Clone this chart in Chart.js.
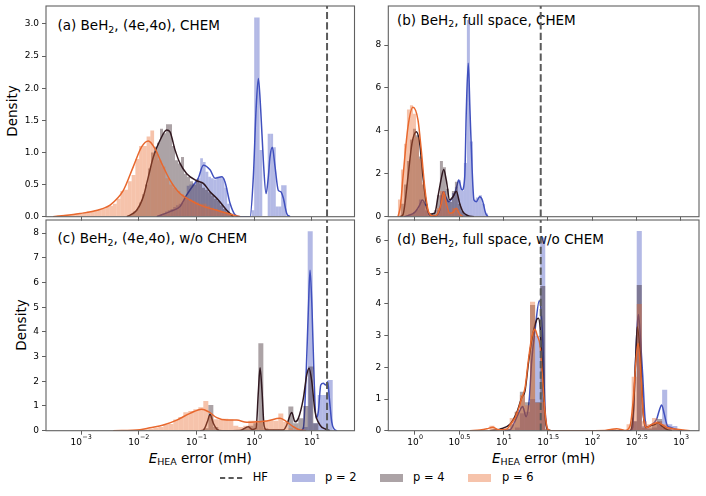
<!DOCTYPE html>
<html><head><meta charset="utf-8">
<script src="https://cdn.jsdelivr.net/npm/chart.js@4.4.1/dist/chart.umd.min.js"></script>
<style>
html,body{margin:0;padding:0;background:#fff;}
#wrap{position:relative;width:706px;height:496px;overflow:hidden;font-family:"DejaVu Sans",sans-serif;color:#000;background:#fff;}
.ttl{position:absolute;font-size:13.5px;line-height:1;white-space:nowrap;}
.sub{font-size:70%;position:relative;top:0.28em;}
.ylab{position:absolute;font-size:13.5px;line-height:1;white-space:nowrap;transform:translate(-50%,-50%) rotate(-90deg);}
.xlab{position:absolute;font-size:13.5px;line-height:1;white-space:nowrap;transform:translateX(-50%);}
.lg{position:absolute;font-size:11.5px;line-height:1;white-space:nowrap;}
.patch{position:absolute;width:23px;height:8px;}
</style></head><body>
<div id="wrap">
  <div class="ttl" style="left:57.5px;top:18.9px">(a) BeH<span class="sub">2</span>, (4e,4o), CHEM</div>
  <div class="ttl" style="left:397px;top:13.8px">(b) BeH<span class="sub">2</span>, full space, CHEM</div>
  <div class="ttl" style="left:57.5px;top:232.4px">(c) BeH<span class="sub">2</span>, (4e,4o), w/o CHEM</div>
  <div class="ttl" style="left:397px;top:232.9px">(d) BeH<span class="sub">2</span>, full space, w/o CHEM</div>
  <div class="ylab" style="left:13px;top:111.4px">Density</div>
  <div class="ylab" style="left:22px;top:325.4px">Density</div>
  <div class="xlab" style="left:200.3px;top:451.6px"><span style="font-style:italic">E</span><span class="sub">HEA</span> error (mH)</div>
  <div class="xlab" style="left:543.6px;top:451.6px"><span style="font-style:italic">E</span><span class="sub">HEA</span> error (mH)</div>
  <svg style="position:absolute;left:220px;top:474.7px" width="24" height="6"><line x1="0" y1="3" x2="23" y2="3" stroke="#5a5a5a" stroke-width="2" stroke-dasharray="5.2,3.3"/></svg>
  <div class="lg" style="left:252.7px;top:471.8px">HF</div>
  <div class="patch" id="pk2" style="left:292px;top:474px"></div>
  <div class="lg" style="left:325px;top:471.8px">p = 2</div>
  <div class="patch" id="pk4" style="left:380px;top:474px"></div>
  <div class="lg" style="left:413px;top:471.8px">p = 4</div>
  <div class="patch" id="pk6" style="left:468px;top:474px"></div>
  <div class="lg" style="left:502px;top:471.8px">p = 6</div>
</div>
<script>
// ================= DATA (x values are log10 of E_HEA error in mH) =================
const seriesLabels = ['p = 2', 'p = 4', 'p = 6'];
const hfActive = 1.266;     // HF error, (4e,4o) active space
const hfFull = 1.418;       // HF error, full space
const xRangeActive = [-3.607, 1.742];
const xRangeFull = [-0.301, 3.203];
const xTicksActive = [-3, -2, -1, 0, 1];
const xTicksFull = [0, 0.5, 1, 1.5, 2, 2.5, 3];

// ---- panel (a): (4e,4o), CHEM ----
const yTicksA = [0, 0.5, 1, 1.5, 2, 2.5, 3];
const yMaxA = 3.28;
const aP2HistStart = -1.682, aP2HistWidth = 0.0468;
const aP2Hist = [0.02,0.03,0.05,0.08,0.1,0.12,0.15,0.18,0.2,0.22,0.3,0.48,0.5,0.52,0.55,0.6,0.91,0.85,0.7,0.62,0.6,0.58,0.62,0.62,0.6,0.45,0.2,0.05,0,0,0,0,0,0,0,0.1,3.1,3.1,1.04,0,0,1.29,1.29,1.08,0.16,0.16,0.49,0.49];
const aP4HistStart = -2.202, aP4HistWidth = 0.052;
const aP4Hist = [0.02,0.04,0.08,0.12,0.22,0.35,0.5,0.75,1.0,1.09,1.15,1.37,1.3,1.44,1.44,1.1,0.88,0.83,0.93,0.67,0.62,0.55,0.5,0.58,0.52,0.45,0.42,0.38,0.33,0.28,0.25,0.18,0.12,0.08,0.03];
const aP6HistStart = -3.485, aP6HistWidth = 0.0649;
const aP6Hist = [0.01,0.02,0.02,0.03,0.03,0.04,0.05,0.05,0.06,0.08,0.09,0.1,0.12,0.13,0.15,0.17,0.2,0.28,0.4,0.42,0.55,0.65,0.9,1.1,1.1,1.25,1.34,1.0,0.88,0.78,0.6,0.5,0.45,0.4,0.35,0.3,0.27,0.25,0.22,0.2,0.2,0.17,0.14,0.12,0.1,0.08,0.06,0.05,0.03,0.02];
const aP2KdeX = [-1.687,-1.457,-1.283,-1.167,-1.053,-0.966,-0.879,-0.763,-0.676,-0.560,-0.503,-0.416,-0.329,-0.243,-0.069,-0.012,0.035,0.075,0.116,0.161,0.208,0.248,0.277,0.317,0.364,0.421,0.463,0.508,0.567,0.624];
const aP2KdeY = [0,0.08,0.16,0.34,0.49,0.60,0.80,0.73,0.60,0.62,0.54,0.21,0.03,0,0,0.62,1.66,2.15,1.66,0.88,0.36,0.62,0.93,1.08,0.78,0.41,0.39,0.29,0.05,0];
const aP4KdeX = [-2.207,-2.034,-1.920,-1.833,-1.746,-1.630,-1.514,-1.457,-1.370,-1.283,-1.167,-0.994,-0.879,-0.763,-0.619,-0.473,-0.359];
const aP4KdeY = [0,0.10,0.31,0.62,0.93,1.19,1.35,1.32,1.04,0.83,0.67,0.56,0.52,0.39,0.26,0.10,0];
const aP6KdeX = [-3.485,-3.277,-3.017,-2.809,-2.613,-2.497,-2.266,-2.093,-1.947,-1.833,-1.717,-1.601,-1.457,-1.283,-1.110,-0.936,-0.647,-0.416,-0.243];
const aP6KdeY = [0,0.02,0.05,0.08,0.13,0.18,0.41,0.78,1.09,1.18,1.06,0.83,0.57,0.36,0.26,0.18,0.10,0.04,0];

// ---- panel (b): full space, CHEM ----
const yTicksB = [0, 2, 4, 6, 8];
const yMaxB = 9.82;
const bHistStart = -0.192, bHistWidth = 0.0338;
const bP2Hist = [0,0,0,0.05,0.1,0.2,0.35,0.8,0.7,0.3,0.05,0,0.05,0.3,1.0,1.2,0.8,0.7,1.1,1.4,1.7,1.2,2.5,9.17,3.5,0.8,0.9,1.0,0.6,0.15];
const bP4Hist = [0.05,0.6,1.5,2.6,3.6,4.1,3.8,2.8,1.5,0.6,0.15,0.1,0.3,1.0,2.6,2.3,1.3,0.7,1.2,1.63,0.6,0.25,0.1];
const bP6Hist = [0.8,2.2,3.4,5.0,5.2,4.8,3.7,2.7,1.6,0.5,0.1,0.05,0.1,0.4,1.2,1.0,0.3,0.15,0.4,0.3,0.1];
const bP2KdeX = [-0.124,-0.079,-0.003,0.053,0.082,0.127,0.166,0.226,0.279,0.316,0.338,0.380,0.429,0.466,0.493,0.530,0.561,0.579,0.601,0.620,0.643,0.665,0.691,0.730,0.759,0.797,0.823];
const bP2KdeY = [0,0.05,0.2,0.54,0.78,0.47,0.05,0.03,0.31,1.16,1.0,0.7,0.93,1.32,1.71,1.24,1.86,4.97,7.15,4.97,2.33,0.78,0.7,0.93,0.78,0.16,0];
const bP4KdeX = [-0.169,-0.135,-0.079,-0.034,0.015,0.053,0.090,0.127,0.166,0.222,0.259,0.297,0.324,0.353,0.391,0.429,0.466,0.504,0.541,0.598,0.665];
const bP4KdeY = [0,0.1,1.86,3.42,3.96,3.42,1.86,0.62,0.12,0.16,0.93,1.79,2.2,1.7,0.78,0.93,1.19,0.62,0.23,0.05,0];
const bP6KdeX = [-0.192,-0.164,-0.135,-0.079,-0.023,0.034,0.071,0.109,0.147,0.192,0.226,0.259,0.297,0.324,0.353,0.391,0.429,0.466,0.504,0.541];
const bP6KdeY = [0,0.5,1.86,4.19,5.10,4.5,3.1,1.4,0.31,0.05,0.03,0.16,0.62,1.16,0.62,0.16,0.2,0.39,0.12,0];

// ---- panel (c): (4e,4o), w/o CHEM ----
const yTicksC = [0, 1, 2, 3, 4, 5, 6, 7, 8];
const yMaxC = 8.53;
const cP2HistStart = 0.844, cP4HistStart = -0.879, cP6HistStart = -2.440, cHistWidth = 0.0867;
const cP2Hist = [0.15,8.07,0.3,1.45,1.45,2.05];
const cP4Hist = [0.1,1.04,0.15,0,0,0,0.03,0,0.1,0.2,0.3,3.54,0.1,0,0,0,0,0.98,0.3,0.5,1.0,2.6,0.3];
const cP6Hist = [0.01,0.01,0.02,0.02,0.03,0.04,0.05,0.08,0.12,0.15,0.25,0.27,0.45,0.55,0.75,0.8,0.87,0.95,1.2,0.63,0.46,0.45,0.48,0.45,0.2,0.15,0.2,0.4,0.4,0.38,0.4,0.42,0.4,0.7,0.35,0.1,0.05];
const cP2KdeX = [0.798,0.855,0.902,0.942,0.971,1.006,1.040,1.075,1.115,1.157,1.202,1.243,1.278,1.306,1.347,1.387,1.439];
const cP2KdeY = [0,0.1,2.2,4.9,6.5,4.9,2.2,0.5,0.77,1.85,1.92,1.85,1.98,1.31,0.36,0.07,0];
const cP4KdeX = [-0.936,-0.879,-0.810,-0.763,-0.706,-0.647,-0.555,-0.243,-0.099,-0.035,0.035,0.075,0.104,0.139,0.173,0.220,0.508,0.567,0.654,0.711,0.768,0.855,0.914,0.954,1.001,1.058,1.144,1.231,1.318];
const cP4KdeY = [0,0.02,0.36,0.66,0.30,0.07,0,0.01,0.16,0.05,0.1,1.58,2.55,1.58,0.23,0.03,0.03,0.23,0.74,0.36,0.50,1.31,2.26,2.53,2.00,0.77,0.23,0.07,0];
const cP6KdeX = [-2.440,-1.977,-1.803,-1.573,-1.340,-1.110,-0.907,-0.792,-0.647,-0.473,-0.300,-0.127,0.047,0.220,0.451,0.567,0.681,0.798,0.902];
const cP6KdeY = [0,0.04,0.12,0.23,0.43,0.70,0.87,0.77,0.53,0.43,0.43,0.34,0.36,0.39,0.50,0.36,0.16,0.03,0];

// ---- panel (d): full space, w/o CHEM ----
const yTicksD = [0, 1, 2, 3, 4, 5, 6];
const yMaxD = 6.65;
const dHistStart = 0.839, dHistWidth = 0.0573;
const dP2Hist = [0,0,0,0,0,0.1,0.55,0.6,1.0,3.0,6.1,0,0,0,0,0,0,0,0,0,0,0,0,0,0,0,0,0,0.3,6.3,0.15,0.05,0.1,0.3,1.29,0.2,0.15,0,0];
const dP4Hist = [0,0,0.02,0.05,0.2,0.6,1.23,0.9,3.97,0.9,4.57,0.05,0,0,0,0,0,0,0,0,0,0,0,0,0,0,0,0,0.3,4.6,0.1,0.1,0.2,0.37,0.1,0,0,0,0];
const dP6Hist = [0.16,0.05,0.04,0.08,0.4,0.6,1.13,0.8,4.07,0.88,0.9,0.05,0,0,0,0,0,0,0,0,0,0,0,0.02,0.06,0.02,0,0.2,1.7,4.0,0.3,0.2,0.4,0.3,0.2,0.1,0.05,0.03,0.02];
const dP2KdeX = [1.015,1.071,1.128,1.176,1.215,1.252,1.289,1.316,1.353,1.402,1.440,1.466,1.492,1.523,2.425,2.455,2.481,2.507,2.520,2.545,2.568,2.594,2.620,2.650,2.726,2.755,2.782,2.811,2.845,2.884,2.932,3.011];
const dP2KdeY = [0,0.02,0.3,0.6,0.76,0.44,1.0,2.2,3.15,4.1,2.95,0.74,0.06,0,0,0.1,1.76,3.34,3.67,2.8,1.76,0.4,0.1,0.15,0.37,0.64,0.81,0.53,0.16,0.1,0.05,0];
const dP4KdeX = [0.846,0.959,1.071,1.147,1.203,1.241,1.278,1.316,1.372,1.391,1.410,1.432,1.458,1.485,1.511,2.425,2.462,2.492,2.507,2.545,2.575,2.605,2.650,2.707,2.744,2.782,2.839,2.898];
const dP4KdeY = [0,0.05,0.2,0.57,1.04,1.26,2.1,2.85,3.5,3.55,3.3,2.2,0.8,0.1,0,0,0.57,2.5,3.28,2.2,0.5,0.1,0.15,0.2,0.25,0.15,0.04,0];
const dP6KdeX = [0.620,0.733,0.812,0.876,0.939,1.034,1.071,1.128,1.165,1.203,1.241,1.278,1.316,1.353,1.379,1.410,1.436,1.466,1.492,1.523,2.143,2.275,2.368,2.425,2.462,2.492,2.515,2.545,2.575,2.613,2.669,2.726,2.782,2.839,2.913,3.026,3.101];
const dP6KdeY = [0,0.02,0.06,0.11,0.03,0.05,0.18,0.4,0.66,1.03,1.35,2.2,2.94,3.2,3.0,2.7,1.76,0.6,0.08,0,0.01,0.06,0.01,0.15,1.0,2.2,2.75,1.9,0.5,0.1,0.2,0.25,0.2,0.1,0.06,0.02,0];

// ================= STYLE / LAYOUT =================
const FONT = '"DejaVu Sans"';
const rgbP2 = [64, 80, 190], rgbP4 = [48, 24, 32], rgbP6 = [232, 104, 46];
const HIST_ALPHA = 0.4;
const spineColor = '#606060';
const hfColor = '#5a5a5a';
const rgba = (c, a) => `rgba(${c[0]},${c[1]},${c[2]},${a})`;
document.getElementById('pk2').style.background = rgba(rgbP2, HIST_ALPHA);
document.getElementById('pk4').style.background = rgba(rgbP4, HIST_ALPHA);
document.getElementById('pk6').style.background = rgba(rgbP6, HIST_ALPHA);

Chart.defaults.font.family = FONT;
Chart.defaults.animation = false;

const geo = {
  a: {L: 46, T: 6, W: 308.5, H: 210.7},
  b: {L: 388.3, T: 6, W: 310.7, H: 210.7},
  c: {L: 46, T: 220, W: 308.5, H: 210.7},
  d: {L: 388.3, T: 220, W: 310.7, H: 210.7}
};

function histPoints(start, width, heights) {
  return heights.map((h, i) => ({x: start + width * (i + 0.5), y: h}));
}
function kdePoints(xs, ys) {
  return xs.map((x, i) => ({x: x, y: ys[i]}));
}
function expText(v) {
  return String(v).replace('-', '\u2212');
}

const framePlugin = {
  id: 'frame',
  afterDatasetsDraw(chart) {
    const {left, top, right, bottom} = chart.chartArea;
    const ctx = chart.ctx;
    ctx.save();
    ctx.strokeStyle = spineColor;
    ctx.lineWidth = 1.1;
    ctx.strokeRect(left, top, right - left, bottom - top);
    ctx.restore();
  }
};
const xLabelPlugin = {
  id: 'xlab',
  afterDraw(chart, args, opts) {
    if (!opts || !opts.show) return;
    const sc = chart.scales.x, ctx = chart.ctx;
    const y = chart.chartArea.bottom + 11.6;
    ctx.save();
    ctx.fillStyle = '#000';
    ctx.textBaseline = 'middle';
    ctx.textAlign = 'left';
    for (const t of sc.ticks) {
      const px = sc.getPixelForValue(t.value);
      const base = '10', ex = expText(t.value);
      ctx.font = '9px ' + FONT;
      const wb = ctx.measureText(base).width;
      ctx.font = '6.4px ' + FONT;
      const we = ctx.measureText(ex).width;
      const x0 = px - (wb + we) / 2;
      ctx.font = '9px ' + FONT;
      ctx.fillText(base, x0, y);
      ctx.font = '6.4px ' + FONT;
      ctx.fillText(ex, x0 + wb + 0.3, y - 4.6);
    }
    ctx.restore();
  }
};

function makeChart(key, p) {
  const g = geo[key];
  const wrap = document.getElementById('wrap');
  const cx = Math.floor(g.L - 44), ct = Math.floor(g.T - 5);
  const cw = Math.ceil(g.L + g.W + 6) - cx, ch = Math.ceil(g.T + g.H + 30) - ct;
  const yW = g.L - cx, topPad = g.T - ct;
  const rightPad = cw - (g.L + g.W - cx), xH = ch - (g.T + g.H - ct);
  const canvas = document.createElement('canvas');
  canvas.width = cw; canvas.height = ch;
  canvas.style.cssText = `position:absolute;left:${cx}px;top:${ct}px;width:${cw}px;height:${ch}px;`;
  wrap.appendChild(canvas);

  const xr = p.xRange;
  const zeroPad = s => { s.paddingLeft = 0; s.paddingRight = 0; s.paddingTop = 0; s.paddingBottom = 0; };
  const hiddenX = () => ({
    type: 'linear', display: false, min: xr[0], max: xr[1], offset: false, grid: {offset: false},
    afterBuildTicks: s => { s.ticks = [{value: xr[0]}, {value: xr[1]}]; }
  });
  const histDs = (label, axis, pts, col, order) => ({
    type: 'bar', label: label, data: pts, xAxisID: axis, yAxisID: 'y',
    backgroundColor: rgba(col, HIST_ALPHA), borderWidth: 0,
    barPercentage: 1, categoryPercentage: 1, grouped: false, inflateAmount: 0, order: order
  });
  const kdeDs = (label, pts, col, order) => ({
    type: 'line', label: label, data: pts, xAxisID: 'x', yAxisID: 'y',
    borderColor: rgba(col, 1), borderWidth: 1.5, pointRadius: 0, fill: false,
    cubicInterpolationMode: 'monotone', order: order
  });
  const datasets = [
    histDs(seriesLabels[0], 'xh2', p.h2, rgbP2, 19),
    kdeDs(seriesLabels[0], p.k2, rgbP2, 18),
    histDs(seriesLabels[1], 'xh4', p.h4, rgbP4, 17),
    kdeDs(seriesLabels[1], p.k4, rgbP4, 16),
    histDs(seriesLabels[2], 'xh6', p.h6, rgbP6, 15),
    kdeDs(seriesLabels[2], p.k6, rgbP6, 14),
    {type: 'line', label: 'HF', data: [{x: p.hf, y: 0}, {x: p.hf, y: p.yMax}],
     xAxisID: 'x', yAxisID: 'y', borderColor: hfColor, borderWidth: 2, borderDash: [7.2, 3.2],
     pointRadius: 0, tension: 0, fill: false, order: 1}
  ];
  return new Chart(canvas, {
    type: 'line',
    data: {datasets: datasets},
    options: {
      responsive: false, maintainAspectRatio: false, animation: false, events: [],
      layout: {padding: {left: 0, top: topPad, right: rightPad, bottom: 0}},
      plugins: {legend: {display: false}, tooltip: {enabled: false}, xlab: {show: p.xLabels}},
      scales: {
        x: {
          type: 'linear', position: 'bottom', min: xr[0], max: xr[1], offset: false,
          afterBuildTicks: s => { s.ticks = p.xTicks.map(v => ({value: v})); },
          afterFit: s => { s.height = xH; zeroPad(s); },
          ticks: {display: false},
          grid: {display: true, offset: false, drawOnChartArea: false, drawTicks: true, tickLength: 4, tickColor: spineColor, tickWidth: 1},
          border: {display: false}
        },
        y: {
          type: 'linear', position: 'left', min: 0, max: p.yMax, offset: false,
          afterBuildTicks: s => { s.ticks = p.yTicks.map(v => ({value: v})); },
          afterFit: s => { s.width = yW; zeroPad(s); },
          ticks: {font: {size: 9, family: FONT}, color: '#000', padding: 3, autoSkip: false,
                  callback: v => p.yFmt(v)},
          grid: {display: true, offset: false, drawOnChartArea: false, drawTicks: true, tickLength: 4, tickColor: spineColor, tickWidth: 1},
          border: {display: false}
        },
        xh2: hiddenX(), xh4: hiddenX(), xh6: hiddenX()
      }
    },
    plugins: [framePlugin, xLabelPlugin]
  });
}

makeChart('a', {
  xRange: xRangeActive, xTicks: xTicksActive, xLabels: false, hf: hfActive,
  yMax: yMaxA, yTicks: yTicksA, yFmt: v => v.toFixed(1),
  h2: histPoints(aP2HistStart, aP2HistWidth, aP2Hist),
  h4: histPoints(aP4HistStart, aP4HistWidth, aP4Hist),
  h6: histPoints(aP6HistStart, aP6HistWidth, aP6Hist),
  k2: kdePoints(aP2KdeX, aP2KdeY), k4: kdePoints(aP4KdeX, aP4KdeY), k6: kdePoints(aP6KdeX, aP6KdeY)
});
makeChart('b', {
  xRange: xRangeFull, xTicks: xTicksFull, xLabels: false, hf: hfFull,
  yMax: yMaxB, yTicks: yTicksB, yFmt: v => String(v),
  h2: histPoints(bHistStart, bHistWidth, bP2Hist),
  h4: histPoints(bHistStart, bHistWidth, bP4Hist),
  h6: histPoints(bHistStart, bHistWidth, bP6Hist),
  k2: kdePoints(bP2KdeX, bP2KdeY), k4: kdePoints(bP4KdeX, bP4KdeY), k6: kdePoints(bP6KdeX, bP6KdeY)
});
makeChart('c', {
  xRange: xRangeActive, xTicks: xTicksActive, xLabels: true, hf: hfActive,
  yMax: yMaxC, yTicks: yTicksC, yFmt: v => String(v),
  h2: histPoints(cP2HistStart, cHistWidth, cP2Hist),
  h4: histPoints(cP4HistStart, cHistWidth, cP4Hist),
  h6: histPoints(cP6HistStart, cHistWidth, cP6Hist),
  k2: kdePoints(cP2KdeX, cP2KdeY), k4: kdePoints(cP4KdeX, cP4KdeY), k6: kdePoints(cP6KdeX, cP6KdeY)
});
makeChart('d', {
  xRange: xRangeFull, xTicks: xTicksFull, xLabels: true, hf: hfFull,
  yMax: yMaxD, yTicks: yTicksD, yFmt: v => String(v),
  h2: histPoints(dHistStart, dHistWidth, dP2Hist),
  h4: histPoints(dHistStart, dHistWidth, dP4Hist),
  h6: histPoints(dHistStart, dHistWidth, dP6Hist),
  k2: kdePoints(dP2KdeX, dP2KdeY), k4: kdePoints(dP4KdeX, dP4KdeY), k6: kdePoints(dP6KdeX, dP6KdeY)
});
</script>
</body></html>
